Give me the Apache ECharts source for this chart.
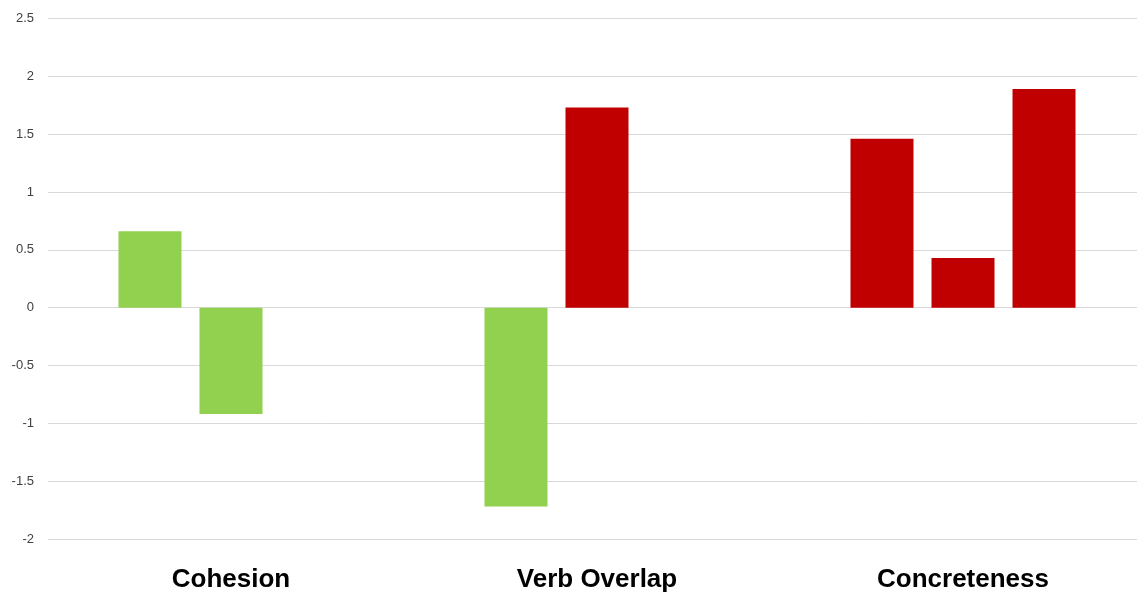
<!DOCTYPE html>
<html>
<head>
<meta charset="utf-8">
<script src="https://cdn.jsdelivr.net/npm/echarts@6/dist/echarts.min.js"></script>
<style>html,body{margin:0;padding:0;background:#fff;overflow:hidden;width:1137px;height:596px;}#c{width:1146px;height:596px;}</style>
</head>
<body>
<div id="c"></div>
<script>
const categories = ['Cohesion', 'Verb Overlap', 'Concreteness'];
const slot1 = [0.66, -1.72, 1.46];
const slot2 = [-0.92, 1.73, 0.43];
const slot3 = [null, null, 1.89];
const yTicks = [-2, -1.5, -1, -0.5, 0, 0.5, 1, 1.5, 2, 2.5];

const GREEN = '#92d050', RED = '#c00000';
const colors1 = [GREEN, GREEN, RED];
const colors2 = [GREEN, RED, RED];
const colors3 = [RED, RED, RED];

function mk(vals, cols) {
  return {
    type: 'bar',
    barWidth: 63,
    barGap: '28.6%',
    data: vals.map((v, i) => ({ value: v, itemStyle: { color: cols[i] } }))
  };
}

const chart = echarts.init(document.getElementById('c'));
chart.setOption({
  animation: false,
  grid: { left: 48, top: 18.5, right: 0, bottom: 57, containLabel: false },
  xAxis: {
    type: 'category',
    data: categories,
    axisLine: { show: false },
    axisTick: { show: false },
    axisLabel: { fontFamily: 'Liberation Sans', fontWeight: 'bold', fontSize: 26, color: '#000', margin: 28 }
  },
  yAxis: {
    type: 'value',
    min: yTicks[0],
    max: yTicks[yTicks.length - 1],
    interval: 0.5,
    axisLine: { show: false },
    axisTick: { show: false },
    splitLine: { lineStyle: { color: '#d9d9d9', width: 1 } },
    axisLabel: { fontFamily: 'Liberation Sans', fontSize: 13, color: '#404040', margin: 14 }
  },
  series: [mk(slot1, colors1), mk(slot2, colors2), mk(slot3, colors3)]
});
</script>
</body>
</html>
